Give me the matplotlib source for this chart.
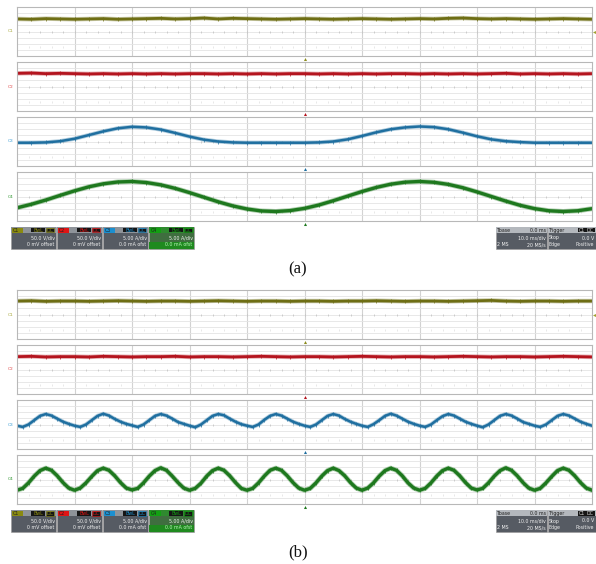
import numpy as np
import matplotlib.pyplot as plt
from matplotlib.patches import Rectangle

W, H = 596, 564

# time base (ms), 10 ms/div, 10 divs on screen
t_a = np.arange(-50, 50.1, 2.5)
t_b = np.arange(-50, 50.1, 1.0)

# ---- panel (a) traces, in divisions from screen centre ----
c1_a = [2.05, 2.0, 2.1, 2.05, 2.0, 2.05, 2.1, 2.0, 2.05, 2.1, 2.15, 2.05, 2.1, 2.2,
        2.05, 2.15, 2.1, 2.05, 2.0, 2.05, 2.1, 2.05, 2.0, 2.05, 2.1, 2.05, 2.0, 2.05,
        2.1, 2.05, 2.15, 2.2, 2.1, 2.05, 2.1, 2.05, 2.0, 2.05, 2.1, 2.05, 2.0]
c2_a = [2.15, 2.2, 2.1, 2.15, 2.1, 2.05, 2.1, 2.05, 2.1, 2.05, 2.1, 2.05, 2.1, 2.1,
        2.05, 2.1, 2.05, 2.1, 2.05, 2.1, 2.1, 2.05, 2.1, 2.05, 2.1, 2.05, 2.1, 2.1,
        2.05, 2.1, 2.05, 2.1, 2.05, 2.1, 2.15, 2.05, 2.1, 2.05, 2.1, 2.05, 2.1]
c3_a = [-0.2, -0.2, -0.15, 0.05, 0.45, 1.05, 1.65, 2.15, 2.4, 2.3, 1.95, 1.4, 0.8,
        0.3, 0.0, -0.15, -0.2, -0.2, -0.2, -0.2, -0.2, -0.15, 0.0, 0.35, 0.9, 1.5,
        2.0, 2.3, 2.45, 2.35, 2.0, 1.45, 0.85, 0.35, 0.05, -0.1, -0.2, -0.2, -0.2,
        -0.2, -0.2]
c4_a = [-1.85, -1.27, -0.58, 0.18, 0.92, 1.58, 2.07, 2.37, 2.45, 2.28, 1.9, 1.33,
        0.63, -0.12, -0.87, -1.53, -2.04, -2.36, -2.45, -2.3, -1.94, -1.39, -0.69,
        0.06, 0.81, 1.48, 2.01, 2.34, 2.45, 2.32, 1.98, 1.44, 0.75, 0.0, -0.75,
        -1.44, -1.98, -2.33, -2.45, -2.33, -1.99]

# ---- panel (b) traces ----
c1_b = [2.2, 2.25, 2.15, 2.2, 2.2, 2.15, 2.2, 2.25, 2.2, 2.15, 2.2, 2.2, 2.15, 2.2,
        2.25, 2.2, 2.15, 2.2, 2.2, 2.15, 2.2, 2.2, 2.15, 2.2, 2.2, 2.25, 2.2, 2.15,
        2.2, 2.2, 2.15, 2.2, 2.25, 2.3, 2.2, 2.15, 2.2, 2.2, 2.15, 2.2, 2.2]
c2_b = [2.1, 2.15, 2.05, 2.1, 2.1, 2.05, 2.15, 2.1, 2.05, 2.1, 2.1, 2.15, 2.05, 2.1,
        2.1, 2.05, 2.1, 2.15, 2.1, 2.05, 2.1, 2.1, 2.05, 2.1, 2.15, 2.1, 2.05, 2.1,
        2.1, 2.05, 2.1, 2.15, 2.1, 2.05, 2.1, 2.1, 2.05, 2.1, 2.15, 2.1, 2.05]
c3_b = [-0.2, -0.4, 0.0, 0.7, 1.4, 1.7, 1.45, 0.95, 0.45, 0.1,
        -0.2, -0.4, 0.0, 0.7, 1.4, 1.75, 1.45, 0.9, 0.45, 0.1,
        -0.15, -0.4, 0.0, 0.7, 1.4, 1.7, 1.45, 0.95, 0.4, 0.1,
        -0.2, -0.45, 0.0, 0.7, 1.4, 1.7, 1.5, 0.95, 0.45, 0.05,
        -0.2, -0.4, 0.0, 0.75, 1.4, 1.7, 1.45, 0.95, 0.45, 0.1,
        -0.2, -0.4, 0.0, 0.7, 1.4, 1.7, 1.45, 0.9, 0.45, 0.1,
        -0.2, -0.4, 0.05, 0.7, 1.4, 1.75, 1.45, 0.95, 0.45, 0.1,
        -0.2, -0.4, 0.0, 0.7, 1.35, 1.7, 1.45, 0.95, 0.45, 0.1,
        -0.2, -0.45, 0.0, 0.7, 1.4, 1.7, 1.45, 0.95, 0.4, 0.1,
        -0.2, -0.4, 0.0, 0.7, 1.4, 1.7, 1.45, 0.95, 0.45, 0.1,
        -0.2]
c4_b = [-1.75, -1.45, -0.55, 0.55, 1.45, 1.85, 1.5, 0.6, -0.5, -1.4,
        -1.75, -1.4, -0.55, 0.5, 1.45, 1.85, 1.5, 0.6, -0.5, -1.4,
        -1.7, -1.45, -0.55, 0.55, 1.45, 1.9, 1.5, 0.55, -0.5, -1.4,
        -1.75, -1.45, -0.6, 0.55, 1.45, 1.85, 1.5, 0.6, -0.5, -1.45,
        -1.75, -1.45, -0.55, 0.55, 1.5, 1.85, 1.5, 0.6, -0.5, -1.4,
        -1.75, -1.45, -0.55, 0.55, 1.45, 1.85, 1.45, 0.6, -0.5, -1.4,
        -1.75, -1.4, -0.55, 0.55, 1.45, 1.85, 1.5, 0.6, -0.55, -1.4,
        -1.75, -1.45, -0.55, 0.55, 1.45, 1.85, 1.5, 0.6, -0.5, -1.4,
        -1.7, -1.45, -0.55, 0.55, 1.45, 1.9, 1.5, 0.6, -0.5, -1.4,
        -1.75, -1.45, -0.55, 0.5, 1.45, 1.85, 1.5, 0.6, -0.5, -1.4,
        -1.75]

names = ['C1', 'C2', 'C3', 'C4']
trace_col = ['#6e6e14', '#b4141e', '#1f6fa0', '#1e781e']
label_col = ['#a8a83c', '#e04848', '#3f9fd6', '#2f962f']
tag_col = ['#8a8a10', '#e01414', '#1b8fd0', '#12a012']
scale_txt = ['50.0 V/div', '50.0 V/div', '5.00 A/div', '5.00 A/div']
offs_txt = ['0 mV offset', '0 mV offset', '0.0 mA ofst', '0.0 mA ofst']

fig = plt.figure(figsize=(W / 100, H / 100), dpi=100)
fig.patch.set_facecolor('white')

ov = fig.add_axes([0, 0, 1, 1])
ov.set_xlim(0, W)
ov.set_ylim(H, 0)
ov.axis('off')


def strip(top, h=49, left=17, right=592):
    ax = fig.add_axes([left / W, 1 - (top + h) / H, (right - left) / W, h / H])
    ax.set_xlim(-50, 50)
    ax.set_ylim(-4, 4)
    for x in range(-40, 50, 10):
        ax.axvline(x, color='#d2d2d2', lw=0.8, zorder=0)
    for y in range(-3, 4):
        ax.axhline(y, color='#e4e4e4', lw=0.6, zorder=0)
    tk = np.arange(-48, 50, 2)
    ax.plot(tk, np.zeros(len(tk)), '|', ms=1.6, mew=0.5, color='#bdbdbd', zorder=0)
    ax.plot(tk, np.full(len(tk), -2.5), '|', ms=0.8, mew=0.4, color='#d6d6d6', zorder=0)
    for s in ax.spines.values():
        s.set_color('#b8b8b8')
        s.set_linewidth(0.8)
    ax.set_xticks([])
    ax.set_yticks([])
    return ax


def trace(ax, t, v, i, lw):
    ax.plot(t, v, color=trace_col[i], lw=lw + 1.2, alpha=0.35, solid_joinstyle='round')
    ax.plot(t, v, color=trace_col[i], lw=lw, solid_joinstyle='round')
    # vertical noise spikes at each sample
    ax.plot(t, v, '|', ms=3.2 if i < 2 else 2.4, mew=0.5, color=trace_col[i])
    ax.text(-50.6, 0, names[i], ha='right', va='center', fontsize=3.2,
            color=label_col[i], clip_on=False)
    ax.plot(0, -4.5, '^', ms=2.2, color=trace_col[i] if i != 0 else '#8c8c1e',
            mec='none', clip_on=False)
    if i == 0:
        ax.plot(50.3, 0, '<', ms=2.2, color='#a0a030', mec='none', clip_on=False)


def info_bar(y0):
    fs = 3.4
    for i in range(4):
        x0 = [11, 57, 103, 149][i]
        w, h = 44.5, 22
        bg = '#3f6e3f' if i == 3 else '#565b63'
        ov.add_patch(Rectangle((x0, y0), w, h, fc=bg, ec='#9a9a9a', lw=0.4))
        ov.add_patch(Rectangle((x0, y0), w, 6.3, fc='#8e9399' if i < 3 else '#2f8a2f', ec='none'))
        if i == 3:
            ov.add_patch(Rectangle((x0, y0 + 14.5), w, 7.5, fc='#1f8a1f', ec='none'))
        ov.add_patch(Rectangle((x0 + 0.8, y0 + 0.6), 11, 5.2, fc=tag_col[i], ec='none'))
        ov.text(x0 + 2, y0 + 3.3, names[i], fontsize=fs, color='#202020', va='center')
        ov.add_patch(Rectangle((x0 + 20, y0 + 0.9), 14, 4.6, fc='#151515', ec='none'))
        ov.add_patch(Rectangle((x0 + 34.8, y0 + 0.9), 8.6, 4.6, fc='#151515',
                               ec=tag_col[i], lw=0.4))
        ov.text(x0 + 27, y0 + 3.3, 'BwL', fontsize=fs, color=tag_col[i], ha='center', va='center')
        ov.text(x0 + 39.1, y0 + 3.3, 'DC', fontsize=fs, color=tag_col[i], ha='center', va='center')
        ov.text(x0 + w - 0.8, y0 + 11, scale_txt[i], fontsize=fs, color='#f0f0f0',
                ha='right', va='center')
        ov.text(x0 + w - 0.8, y0 + 17.8, offs_txt[i], fontsize=fs,
                color='#b8f5b8' if i == 3 else '#f0f0f0', ha='right', va='center')

    # timebase box
    x0 = 496
    ov.add_patch(Rectangle((x0, y0), 50.5, 22, fc='#565b63', ec='#9a9a9a', lw=0.4))
    ov.add_patch(Rectangle((x0, y0), 50.5, 6.3, fc='#b4b8bd', ec='none'))
    ov.text(x0 + 1, y0 + 3.3, 'Tbase', fontsize=fs, color='#202020', va='center')
    ov.text(x0 + 49.5, y0 + 3.3, '0.0 ms', fontsize=fs, color='#202020', va='center', ha='right')
    ov.text(x0 + 49.5, y0 + 11, '10.0 ms/div', fontsize=fs, color='#f0f0f0', va='center', ha='right')
    ov.text(x0 + 1, y0 + 17.8, '2 MS', fontsize=fs, color='#f0f0f0', va='center')
    ov.text(x0 + 49.5, y0 + 17.8, '20 MS/s', fontsize=fs, color='#f0f0f0', va='center', ha='right')

    # trigger box
    x0 = 547.5
    ov.add_patch(Rectangle((x0, y0), 48, 22, fc='#565b63', ec='#9a9a9a', lw=0.4))
    ov.add_patch(Rectangle((x0, y0), 48, 6.3, fc='#b4b8bd', ec='none'))
    ov.text(x0 + 1, y0 + 3.3, 'Trigger', fontsize=fs, color='#202020', va='center')
    ov.add_patch(Rectangle((x0 + 30, y0 + 0.9), 8, 4.6, fc='#151515', ec='none'))
    ov.add_patch(Rectangle((x0 + 38.6, y0 + 0.9), 8.6, 4.6, fc='#151515', ec='none'))
    ov.text(x0 + 34, y0 + 3.3, 'C1', fontsize=fs, color='#e0e0e0', ha='center', va='center')
    ov.text(x0 + 42.9, y0 + 3.3, 'DC', fontsize=fs, color='#e0e0e0', ha='center', va='center')
    ov.text(x0 + 1, y0 + 11, 'Stop', fontsize=fs, color='#f0f0f0', va='center')
    ov.text(x0 + 47, y0 + 11, '0.0 V', fontsize=fs, color='#f0f0f0', va='center', ha='right')
    ov.text(x0 + 1, y0 + 17.8, 'Edge', fontsize=fs, color='#f0f0f0', va='center')
    ov.text(x0 + 47, y0 + 17.8, 'Positive', fontsize=fs, color='#f0f0f0', va='center', ha='right')


panels = [
    (7, t_a, [c1_a, c2_a, c3_a, c4_a], '(a)'),
    (290, t_b, [c1_b, c2_b, c3_b, c4_b], '(b)'),
]
widths = [2.0, 2.0, 1.8, 2.4]

for top, t, series, cap in panels:
    for i in range(4):
        ax = strip(top + 55 * i)
        v = series[i]
        tt = t if len(v) == len(t) else t_a
        trace(ax, tt, v, i, widths[i])
    info_bar(top + 220)
    ov.text(298, top + 262, cap, fontsize=12, family='Liberation Serif',
            ha='center', va='center', color='#111111')

fig.savefig('out.png', dpi=100, facecolor='white')
